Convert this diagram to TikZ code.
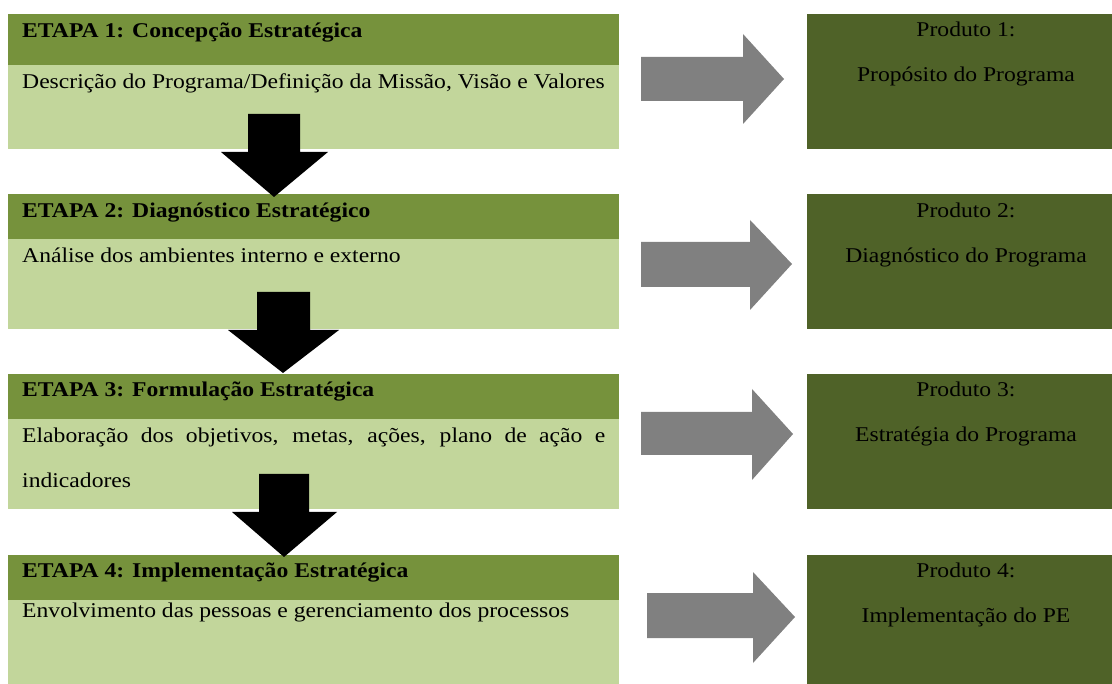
\documentclass[tikz,border=0pt]{standalone}
\usepackage{fontspec}
\setmainfont{Liberation Serif}[FakeStretch=1.125]
\definecolor{hdr}{HTML}{76923C}
\definecolor{bdy}{HTML}{C2D69B}
\definecolor{prd}{HTML}{4F6228}
\definecolor{garrow}{HTML}{808080}
\begin{document}
\begin{tikzpicture}[x=1pt,y=-1pt,
  bodybox/.style={fill=bdy,draw=none,inner sep=0pt,minimum width=611pt,minimum height=135pt,anchor=north west},
  hdrbox/.style={fill=hdr,draw=none,inner sep=0pt,minimum width=611pt,minimum height=45pt,anchor=north west},
  prdbox/.style={fill=prd,draw=none,inner sep=0pt,minimum width=318pt,minimum height=135pt,anchor=north west},
  ltxt/.style={inner sep=0pt,anchor=base west,font=\fontsize{21}{24}\selectfont},
  htxt/.style={inner sep=0pt,anchor=base west,font=\fontsize{21}{24}\selectfont\bfseries},
  rtxt/.style={inner sep=0pt,anchor=base,font=\fontsize{21}{24}\selectfont},
  blk/.style={fill=black},
  gry/.style={fill=garrow}]
\clip (0,0) rectangle (1112,684);
\fill[white] (0,0) rectangle (1112,684);
% left boxes
\node[bodybox] (b1) at (8,14) {};
\node[hdrbox,minimum height=51pt] (h1) at (8,14) {};
\node[bodybox] (b2) at (8,194) {};
\node[hdrbox] (h2) at (8,194) {};
\node[bodybox] (b3) at (8,374) {};
\node[hdrbox] (h3) at (8,374) {};
\node[bodybox] (b4) at (8,555) {};
\node[hdrbox] (h4) at (8,555) {};
% right boxes
\node[prdbox] (p1) at (807,14) {};
\node[prdbox] (p2) at (807,194) {};
\node[prdbox] (p3) at (807,374) {};
\node[prdbox] (p4) at (807,555) {};
% texts left
\node[htxt] (t1h) at (22,38) {ETAPA 1: Concepção Estratégica};
\node[ltxt] (t1b) at (22,89) {Descrição do Programa/Definição da Missão, Visão e Valores};
\node[htxt] (t2h) at (22,218) {ETAPA 2: Diagnóstico Estratégico};
\node[ltxt] (t2b) at (22,263) {Análise dos ambientes interno e externo};
\node[htxt] (t3h) at (22,397) {ETAPA 3: Formulação Estratégica};
\node[ltxt] (t3b) at (22,443) {\makebox[583pt][s]{Elaboração dos objetivos, metas, ações, plano de ação e}};
\node[ltxt] (t3c) at (22,488) {indicadores};
\node[htxt] (t4h) at (22,577) {ETAPA 4: Implementação Estratégica};
\node[ltxt] (t4b) at (22,617) {Envolvimento das pessoas e gerenciamento dos processos};
% texts right
\node[rtxt] (r1a) at (966,37) {Produto 1:};
\node[rtxt] (r1b) at (966,82) {Propósito do Programa};
\node[rtxt] (r2a) at (966,218) {Produto 2:};
\node[rtxt] (r2b) at (966,263) {Diagnóstico do Programa};
\node[rtxt] (r3a) at (966,397) {Produto 3:};
\node[rtxt] (r3b) at (966,442) {Estratégia do Programa};
\node[rtxt] (r4a) at (966,577) {Produto 4:};
\node[rtxt] (r4b) at (966,622) {Implementação do PE};
% black down arrows
\fill[blk] (248,114) -- (300,114) -- (300,152) -- (328,152) -- (274,197) -- (221,152) -- (248,152) -- cycle;
\fill[blk] (257,292) -- (310,292) -- (310,330) -- (339,330) -- (283,373) -- (228,330) -- (257,330) -- cycle;
\fill[blk] (259,474) -- (309,474) -- (309,512) -- (337,512) -- (284,557) -- (232,512) -- (259,512) -- cycle;
% gray right arrows
\fill[gry] (641,57) -- (743,57) -- (743,34) -- (784,79) -- (743,124) -- (743,101) -- (641,101) -- cycle;
\fill[gry] (641,242) -- (750,242) -- (750,220) -- (792,264) -- (750,310) -- (750,287) -- (641,287) -- cycle;
\fill[gry] (641,412) -- (752,412) -- (752,389) -- (793,434) -- (752,480) -- (752,455) -- (641,455) -- cycle;
\fill[gry] (647,593) -- (753,593) -- (753,572) -- (795,617) -- (753,663) -- (753,638) -- (647,638) -- cycle;
\end{tikzpicture}
\end{document}
